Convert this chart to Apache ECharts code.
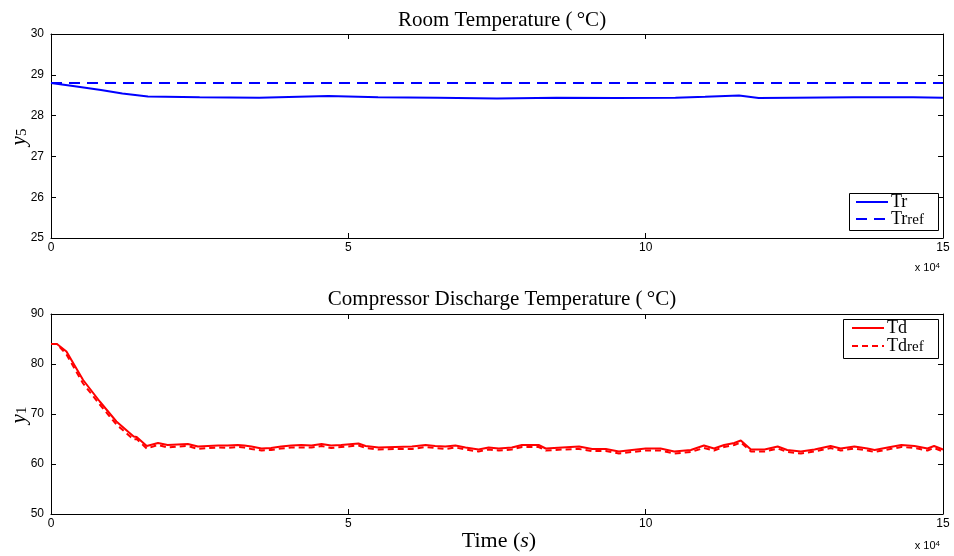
<!DOCTYPE html>
<html>
<head>
<meta charset="utf-8">
<script src="https://cdn.jsdelivr.net/npm/echarts@6/dist/echarts.min.js"></script>
<style>
  html, body { margin: 0; padding: 0; background: #fff; }
  #chart { width: 954px; height: 556px; }
</style>
</head>
<body>
<div id="chart"></div>
<script>
// Time axis in units of 10^4 s
const xTicks = [0, 5, 10, 15];

// Room temperature (top panel)
const trTime = [0, 0.4, 0.84, 1.2, 1.63, 2.5, 3.5, 4.66, 5.5, 6.5, 7.5, 8.5, 9.5, 10.5, 11.0, 11.57, 11.9, 12.5, 13.5, 14.5, 15.0];
const trValues = [28.8, 28.72, 28.63, 28.54, 28.47, 28.45, 28.44, 28.48, 28.45, 28.44, 28.42, 28.44, 28.43, 28.44, 28.46, 28.49, 28.43, 28.44, 28.45, 28.45, 28.44];
const trRefTime = [0, 15];
const trRefValues = [28.8, 28.8];

// Compressor discharge temperature (bottom panel)
const tdTime = [0, 0.1, 0.26, 0.54, 0.82, 1.1, 1.39, 1.44, 1.61, 1.8, 1.96, 2.13, 2.3, 2.47, 2.64, 2.81, 2.97, 3.14, 3.25, 3.37,
  3.54, 3.7, 3.87, 4.04, 4.21, 4.38, 4.55, 4.71, 4.88, 5.17, 5.29, 5.51, 5.79, 6.07, 6.3, 6.46, 6.63, 6.8, 6.97, 7.19,
  7.36, 7.53, 7.75, 7.92, 8.2, 8.32, 8.6, 8.88, 9.1, 9.33, 9.55, 9.77, 10.0, 10.25, 10.48, 10.76, 10.98, 11.15, 11.32, 11.49,
  11.6, 11.77, 12.0, 12.22, 12.38, 12.61, 12.84, 13.11, 13.28, 13.51, 13.73, 13.85, 14.07, 14.3, 14.52, 14.74, 14.85, 15.0];
const tdValues = [84, 84, 82.5, 76.8, 72.5, 68.5, 65.5, 65.4, 63.6, 64.2, 63.8, 63.9, 64.0, 63.5, 63.6, 63.7, 63.7, 63.8, 63.7, 63.5,
  63.1, 63.2, 63.5, 63.7, 63.8, 63.7, 64.0, 63.7, 63.8, 64.1, 63.6, 63.3, 63.4, 63.5, 63.8, 63.6, 63.5, 63.7, 63.3, 62.9,
  63.3, 63.1, 63.3, 63.8, 63.8, 63.1, 63.3, 63.5, 63.0, 63.0, 62.5, 62.8, 63.1, 63.1, 62.5, 62.8, 63.7, 63.1, 63.8, 64.2,
  64.7, 62.9, 62.9, 63.5, 62.8, 62.5, 62.9, 63.6, 63.1, 63.5, 63.1, 62.8, 63.3, 63.8, 63.6, 63.1, 63.6, 62.9];
const tdRefValues = [84, 84, 81.9, 76.1, 71.9, 67.9, 64.9, 65.0, 63.1, 63.8, 63.3, 63.5, 63.6, 63.0, 63.2, 63.3, 63.2, 63.4, 63.3, 63.0,
  62.7, 62.8, 63.1, 63.3, 63.3, 63.3, 63.6, 63.2, 63.4, 63.7, 63.2, 62.9, 63.0, 63.0, 63.4, 63.2, 63.0, 63.3, 62.9, 62.5,
  62.9, 62.7, 62.9, 63.4, 63.4, 62.7, 62.9, 63.0, 62.6, 62.6, 62.1, 62.4, 62.7, 62.7, 62.1, 62.4, 63.2, 62.7, 63.4, 63.8,
  64.3, 62.5, 62.5, 63.1, 62.4, 62.1, 62.5, 63.2, 62.7, 63.1, 62.7, 62.4, 62.9, 63.4, 63.2, 62.7, 63.2, 62.5];

const pairs = (xs, ys) => xs.map((x, i) => [x, ys[i]]);

const SERIF = '"Liberation Serif", "DejaVu Serif", serif';
const SANS = '"Liberation Sans", Arial, sans-serif';

const tickLabel = { color: '#000', fontFamily: SANS, fontSize: 12 };
const frameLine = { show: true, onZero: false, lineStyle: { color: '#000', width: 1 } };
const innerTick = { show: true, inside: true, length: 5, lineStyle: { color: '#000', width: 1 } };

function xAxes(gridIndex, showLabels) {
  return [
    { type: 'value', gridIndex, position: 'bottom', min: xTicks[0], max: xTicks[xTicks.length - 1], interval: 5,
      axisLine: frameLine, axisTick: innerTick, splitLine: { show: false },
      axisLabel: Object.assign({ show: showLabels, margin: 4 }, tickLabel) },
    { type: 'value', gridIndex, position: 'top', min: xTicks[0], max: xTicks[xTicks.length - 1], interval: 5,
      axisLine: frameLine, axisTick: innerTick, splitLine: { show: false }, axisLabel: { show: false } }
  ];
}
function yAxes(gridIndex, min, max, interval) {
  return [
    { type: 'value', gridIndex, position: 'left', min, max, interval,
      axisLine: frameLine, axisTick: innerTick, splitLine: { show: false },
      axisLabel: Object.assign({ margin: 7 }, tickLabel) },
    { type: 'value', gridIndex, position: 'right', min, max, interval,
      axisLine: frameLine, axisTick: innerTick, splitLine: { show: false }, axisLabel: { show: false } }
  ];
}

const legendRich = {
  b: { fontFamily: SERIF, fontSize: 18, color: '#000', lineHeight: 16, verticalAlign: 'bottom' },
  s: { fontFamily: SERIF, fontSize: 15, color: '#000', lineHeight: 4, verticalAlign: 'bottom' }
};
const legendFmt = name => name.endsWith('ref') ? '{b|' + name.slice(0, -3) + '}{s|ref}' : '{b|' + name + '}';
const legendBase = {
  orient: 'vertical', itemWidth: 32, itemHeight: 12, padding: 0,
  itemStyle: { opacity: 0 },
  formatter: legendFmt,
  textStyle: { fontFamily: SERIF, fontSize: 16, lineHeight: 16, rich: legendRich, padding: [2, 0, 0, -2] },
  selectedMode: false
};
// Framed white box behind each legend
const legendFrame = (x, y, w, h) => ({
  type: 'rect', z: 3, shape: { x: x + 0.5, y: y + 0.5, width: w, height: h },
  style: { fill: '#fff', stroke: '#000', lineWidth: 1 }
});

const titleStyle = { fontFamily: SERIF, fontSize: 21, fontWeight: 'normal', color: '#000' };

const chart = echarts.init(document.getElementById('chart'));
chart.setOption({
  backgroundColor: '#fff',
  animation: false,
  title: [
    { text: 'Room Temperature (\u2009°C)', left: 497, top: 5, textAlign: 'center', textStyle: titleStyle },
    { text: 'Compressor Discharge Temperature (\u2009°C)', left: 497, top: 284, textAlign: 'center', textStyle: titleStyle }
  ],
  grid: [
    { left: 51, right: 11, top: 34, height: 204 },
    { left: 51, right: 11, top: 314, height: 200 }
  ],
  xAxis: [...xAxes(0, true), ...xAxes(1, true)],
  yAxis: [...yAxes(0, 25, 30, 1), ...yAxes(1, 50, 90, 10)],
  legend: [
    Object.assign({ data: ['Tr', 'Trref'], left: 855, top: 193, itemGap: -1 }, legendBase),
    Object.assign({ data: ['Td', 'Tdref'], left: 851, top: 319, itemGap: 0 }, legendBase)
  ],
  series: [
    { name: 'Tr', type: 'line', xAxisIndex: 0, yAxisIndex: 0, data: pairs(trTime, trValues), symbol: 'none',
      lineStyle: { color: '#0000ff', width: 2 }, itemStyle: { color: '#0000ff' } },
    { name: 'Trref', type: 'line', xAxisIndex: 0, yAxisIndex: 0, data: pairs(trRefTime, trRefValues), symbol: 'none',
      lineStyle: { color: '#0000ff', width: 2, type: [11, 7] }, itemStyle: { color: '#0000ff' } },
    { name: 'Td', type: 'line', xAxisIndex: 2, yAxisIndex: 2, data: pairs(tdTime, tdValues), symbol: 'none',
      lineStyle: { color: '#ff0000', width: 2 }, itemStyle: { color: '#ff0000' } },
    { name: 'Tdref', type: 'line', xAxisIndex: 2, yAxisIndex: 2, data: pairs(tdTime, tdRefValues), symbol: 'none',
      lineStyle: { color: '#ff0000', width: 2, type: [6, 4] }, itemStyle: { color: '#ff0000' } }
  ],
  graphic: [
    legendFrame(849, 193, 89, 37),
    legendFrame(843, 319, 95, 39),
    { type: 'text', x: 20, y: 137, rotation: Math.PI / 2,
      style: { text: '{i|y}{s|5}', textAlign: 'center', textVerticalAlign: 'middle',
        rich: { i: { fontFamily: SERIF, fontStyle: 'italic', fontSize: 21, lineHeight: 20, verticalAlign: 'bottom', fill: '#000' },
                s: { fontFamily: SERIF, fontSize: 15, lineHeight: 10, verticalAlign: 'bottom', fill: '#000' } } } },
    { type: 'text', x: 20, y: 415, rotation: Math.PI / 2,
      style: { text: '{i|y}{s|1}', textAlign: 'center', textVerticalAlign: 'middle',
        rich: { i: { fontFamily: SERIF, fontStyle: 'italic', fontSize: 21, lineHeight: 20, verticalAlign: 'bottom', fill: '#000' },
                s: { fontFamily: SERIF, fontSize: 15, lineHeight: 10, verticalAlign: 'bottom', fill: '#000' } } } },
    { type: 'text', x: 499, y: 541,
      style: { text: '{r|Time (}{i|s}{r|)}', textAlign: 'center', textVerticalAlign: 'middle',
        rich: { r: { fontFamily: SERIF, fontSize: 22, fill: '#000' },
                i: { fontFamily: SERIF, fontStyle: 'italic', fontSize: 22, fill: '#000' } } } },
    { type: 'text', x: 940, y: 268,
      style: { text: '{n|x 10}{p|4}', textAlign: 'right', textVerticalAlign: 'middle',
        rich: { n: { fontFamily: SANS, fontSize: 11, lineHeight: 12, verticalAlign: 'top', fill: '#000' },
                p: { fontFamily: SANS, fontSize: 8, lineHeight: 8, verticalAlign: 'top', fill: '#000' } } } },
    { type: 'text', x: 940, y: 546,
      style: { text: '{n|x 10}{p|4}', textAlign: 'right', textVerticalAlign: 'middle',
        rich: { n: { fontFamily: SANS, fontSize: 11, lineHeight: 12, verticalAlign: 'top', fill: '#000' },
                p: { fontFamily: SANS, fontSize: 8, lineHeight: 8, verticalAlign: 'top', fill: '#000' } } } }
  ]
});
</script>
</body>
</html>
